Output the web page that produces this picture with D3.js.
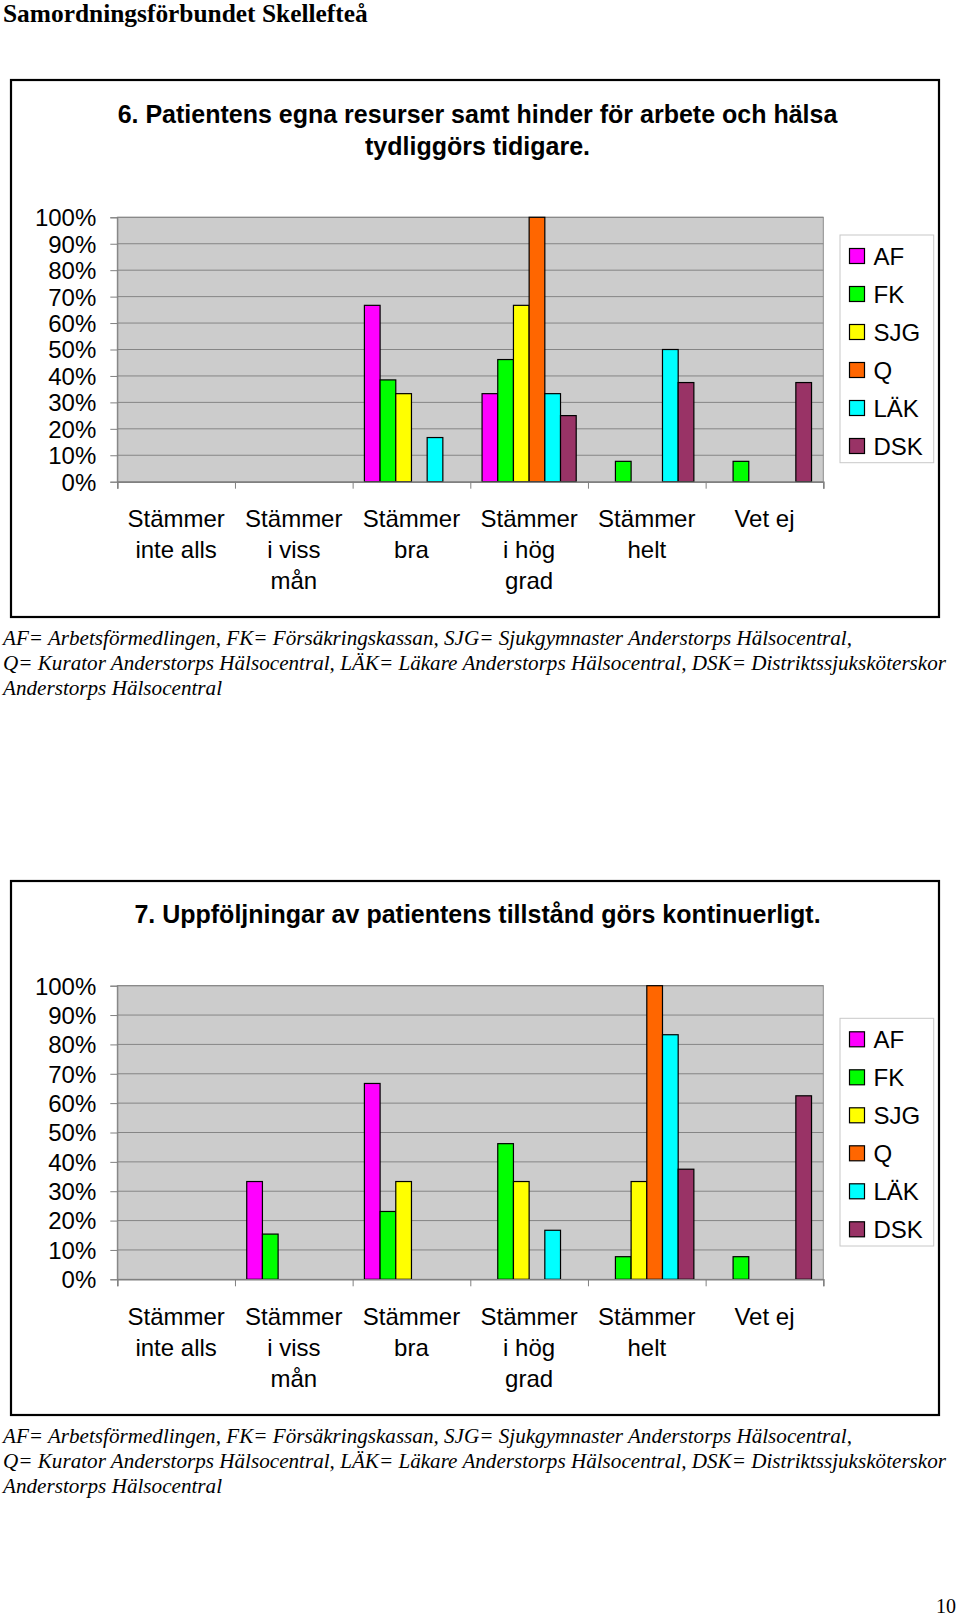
<!DOCTYPE html>
<html>
<head>
<meta charset="utf-8">
<script src="https://cdn.jsdelivr.net/npm/d3@7"></script>
<style>
  html, body { margin: 0; padding: 0; background: #fff; }
  svg { display: block; }
</style>
</head>
<body>
<script>
// ---------- DATA ----------
const categories = ["Stämmer\ninte alls", "Stämmer\ni viss\nmån", "Stämmer\nbra", "Stämmer\ni hög\ngrad", "Stämmer\nhelt", "Vet ej"];
const seriesNames = ["AF", "FK", "SJG", "Q", "LÄK", "DSK"];
const seriesColors = ["#FF00FF", "#00FF00", "#FFFF00", "#FF6600", "#00FFFF", "#993366"];
const yTicks = [0, 10, 20, 30, 40, 50, 60, 70, 80, 90, 100];

// Chart 6 (values in %, per series across categories)
const af6  = [0, 0, 66.7, 33.3, 0, 0];
const fk6  = [0, 0, 38.5, 46.2, 7.7, 7.7];
const sjg6 = [0, 0, 33.3, 66.7, 0, 0];
const q6   = [0, 0, 0, 100, 0, 0];
const lak6 = [0, 0, 16.7, 33.3, 50, 0];
const dsk6 = [0, 0, 0, 25, 37.5, 37.5];

// Chart 7
const af7  = [0, 33.3, 66.7, 0, 0, 0];
const fk7  = [0, 15.4, 23.1, 46.2, 7.7, 7.7];
const sjg7 = [0, 0, 33.3, 33.3, 33.3, 0];
const q7   = [0, 0, 0, 0, 100, 0];
const lak7 = [0, 0, 0, 16.7, 83.3, 0];
const dsk7 = [0, 0, 0, 0, 37.5, 62.5];

const header = "Samordningsförbundet Skellefteå";
const title6 = ["6. Patientens egna resurser samt hinder för arbete och hälsa", "tydliggörs tidigare."];
const title7 = ["7. Uppföljningar av patientens tillstånd görs kontinuerligt."];
const footnote = [
  "AF= Arbetsförmedlingen, FK= Försäkringskassan, SJG= Sjukgymnaster Anderstorps Hälsocentral,",
  "Q= Kurator Anderstorps Hälsocentral, LÄK= Läkare Anderstorps Hälsocentral, DSK= Distriktssjuksköterskor",
  "Anderstorps Hälsocentral"
];
const pageNumber = "10";

// ---------- DRAWING ----------
const W = 960, H = 1620;
const svg = d3.select("body").append("svg").attr("width", W).attr("height", H);
svg.append("rect").attr("width", W).attr("height", H).attr("fill", "#fff");

const SANS = "'Liberation Sans', Arial, Helvetica, sans-serif";
const SERIF = "'Liberation Serif', 'Times New Roman', serif";

svg.append("text")
  .attr("x", 3).attr("y", 22)
  .attr("font-family", SERIF).attr("font-weight", "bold").attr("font-size", 25.4)
  .attr("fill", "#000")
  .text(header);

svg.append("text")
  .attr("x", 956).attr("y", 1613)
  .attr("text-anchor", "end")
  .attr("font-family", SERIF).attr("font-size", 20)
  .attr("fill", "#000")
  .text(pageNumber);

function drawChart(cfg) {
  const g = svg.append("g");
  const seriesData = cfg.series;

  // outer box
  g.append("rect")
    .attr("x", cfg.box[0]).attr("y", cfg.box[1])
    .attr("width", cfg.box[2] - cfg.box[0]).attr("height", cfg.box[3] - cfg.box[1])
    .attr("fill", "#fff").attr("stroke", "#000").attr("stroke-width", 2.2);

  // title
  cfg.title.forEach((t, i) => {
    g.append("text")
      .attr("x", 477.5).attr("y", cfg.titleY + i * 32)
      .attr("text-anchor", "middle")
      .attr("font-family", SANS).attr("font-weight", "bold").attr("font-size", 25)
      .attr("fill", "#000")
      .text(t);
  });

  const left = 117.3, right = 823.3;
  const top = cfg.plotTop, bottom = cfg.plotBottom;

  const x = d3.scaleBand().domain(d3.range(categories.length)).range([left, right]).padding(0);
  const xs = d3.scaleBand().domain(seriesNames).range([0, x.bandwidth()]).paddingInner(0).paddingOuter(0.75);
  const y = d3.scaleLinear().domain([0, 100]).range([bottom, top]);

  // plot area
  g.append("rect")
    .attr("x", left).attr("y", top).attr("width", right - left).attr("height", bottom - top)
    .attr("fill", "#CCCCCC").attr("stroke", "#8c8c8c").attr("stroke-width", 1);

  // gridlines
  g.append("g").selectAll("line").data(yTicks.filter(d => d > 0)).join("line")
    .attr("x1", left).attr("x2", right)
    .attr("y1", d => y(d)).attr("y2", d => y(d))
    .attr("stroke", "#858585").attr("stroke-width", 1);

  // y axis
  const yAxis = d3.axisLeft(y).tickValues(yTicks).tickSize(7).tickPadding(14).tickFormat(d => d + "%");
  const ya = g.append("g").attr("transform", `translate(${left},0)`).call(yAxis);
  ya.select(".domain").attr("stroke", "#808080");
  ya.selectAll(".tick line").attr("stroke", "#808080");
  ya.selectAll(".tick text")
    .attr("font-family", SANS).attr("font-size", 24).attr("fill", "#000")
    .attr("dy", "0.35em");

  // bars
  seriesData.forEach((vals, si) => {
    g.append("g").selectAll("rect")
      .data(vals.map((v, ci) => ({ v, ci })).filter(d => d.v > 0))
      .join("rect")
      .attr("x", d => x(d.ci) + xs(seriesNames[si]))
      .attr("y", d => y(d.v))
      .attr("width", xs.bandwidth())
      .attr("height", d => y(0) - y(d.v))
      .attr("fill", seriesColors[si])
      .attr("stroke", "#000").attr("stroke-width", 1.2);
  });

  // x axis
  const xBound = d3.scaleLinear().domain([0, categories.length]).range([left, right]);
  const xAxis = d3.axisBottom(xBound).tickValues(d3.range(categories.length + 1)).tickSize(7).tickFormat("");
  const xa = g.append("g").attr("transform", `translate(0,${bottom})`).call(xAxis);
  xa.select(".domain").attr("stroke", "#808080").attr("stroke-width", 1.5);
  xa.selectAll(".tick line").attr("stroke", "#808080");

  // category labels
  categories.forEach((c, ci) => {
    const t = g.append("text")
      .attr("text-anchor", "middle")
      .attr("font-family", SANS).attr("font-size", 24).attr("fill", "#000");
    c.split("\n").forEach((line, li) => {
      t.append("tspan")
        .attr("x", x(ci) + x.bandwidth() / 2)
        .attr("y", bottom + 45.5 + li * 31)
        .text(line);
    });
  });

  // legend
  const lg = g.append("g");
  lg.append("rect")
    .attr("x", 840).attr("y", cfg.legendTop)
    .attr("width", 93.7).attr("height", 227.7)
    .attr("fill", "#fff").attr("stroke", "#c8c8c8").attr("stroke-width", 1);
  seriesNames.forEach((s, i) => {
    const cy = cfg.legendTop + 21 + i * 38;
    lg.append("rect")
      .attr("x", 849.5).attr("y", cy - 7.5).attr("width", 15).attr("height", 15)
      .attr("fill", seriesColors[i]).attr("stroke", "#000").attr("stroke-width", 1.2);
    lg.append("text")
      .attr("x", 873.5).attr("y", cy + 9)
      .attr("font-family", SANS).attr("font-size", 24).attr("fill", "#000")
      .text(s);
  });

  // footnote
  const fw = [849, 943, 219];
  footnote.forEach((line, i) => {
    g.append("text")
      .attr("x", 3).attr("y", cfg.box[3] + 28 + i * 25)
      .attr("font-family", SERIF).attr("font-style", "italic").attr("font-size", 21)
      .attr("fill", "#000")
      .attr("textLength", fw[i]).attr("lengthAdjust", "spacingAndGlyphs")
      .text(line);
  });
}

drawChart({
  box: [11, 80, 939, 617],
  title: title6, titleY: 123,
  plotTop: 217.3, plotBottom: 481.7,
  legendTop: 235,
  series: [af6, fk6, sjg6, q6, lak6, dsk6]
});

drawChart({
  box: [11, 881, 939, 1415],
  title: title7, titleY: 923.3,
  plotTop: 985.7, plotBottom: 1279.3,
  legendTop: 1018.3,
  series: [af7, fk7, sjg7, q7, lak7, dsk7]
});
</script>
</body>
</html>
